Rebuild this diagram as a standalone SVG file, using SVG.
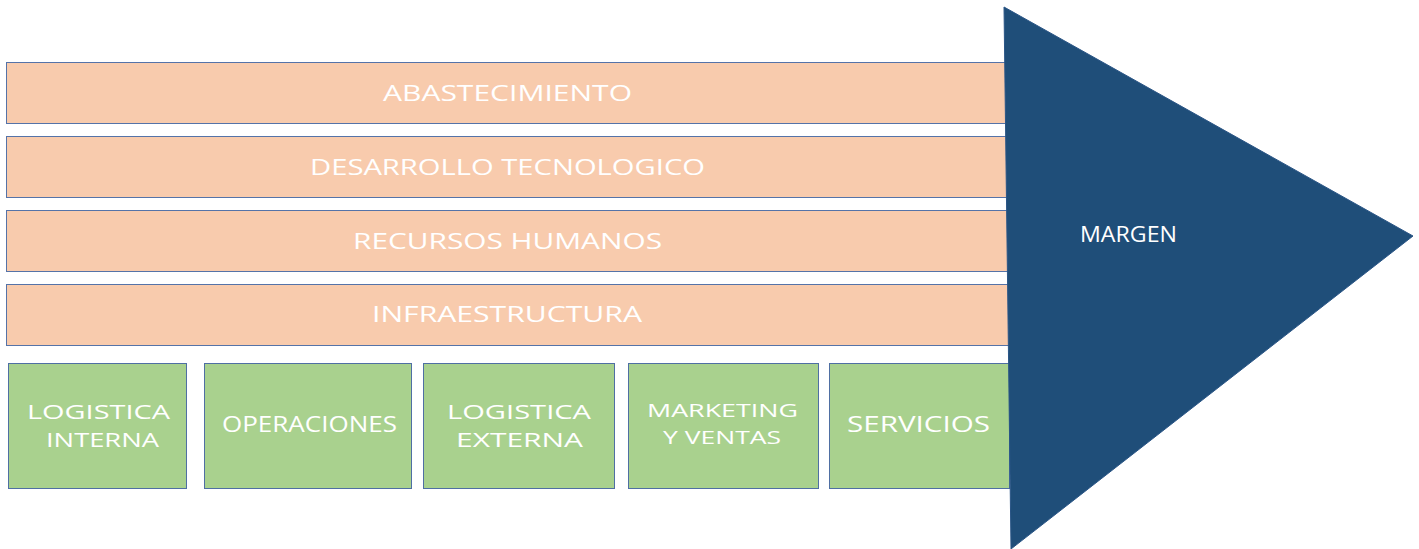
<svg xmlns="http://www.w3.org/2000/svg" width="1419" height="549" viewBox="0 0 1419 549">
<style>
.bar{fill:#F8CBAD;stroke:#5573A8;stroke-width:1}
.act{fill:#A9D18E;stroke:#4F6FA3;stroke-width:1}
.lbl{font-family:"Open Sans","DejaVu Sans",sans-serif;font-size:21px;fill:#FFFFFF;text-anchor:middle}
.two{font-size:20px}
.mk{font-size:19px}
</style>
<rect width="1419" height="549" fill="#FFFFFF"/>
<g id="abastecimiento"><rect class="bar" x="6.5" y="62.5" width="1003" height="61"/><text class="lbl" x="507.5" y="101" textLength="249" lengthAdjust="spacingAndGlyphs">ABASTECIMIENTO</text></g>
<g id="desarrollo"><rect class="bar" x="6.5" y="136.5" width="1003" height="61"/><text class="lbl" x="507.5" y="175" textLength="395" lengthAdjust="spacingAndGlyphs">DESARROLLO TECNOLOGICO</text></g>
<g id="recursos"><rect class="bar" x="6.5" y="210.5" width="1003" height="61"/><text class="lbl" x="507.5" y="249" textLength="309" lengthAdjust="spacingAndGlyphs">RECURSOS HUMANOS</text></g>
<g id="infraestructura"><rect class="bar" x="6.5" y="284.5" width="1003" height="61"/><text class="lbl" x="507" y="322" textLength="270" lengthAdjust="spacingAndGlyphs">INFRAESTRUCTURA</text></g>
<g id="logistica-interna"><rect class="act" x="8.5" y="363.5" width="178" height="125"/><text class="lbl two" x="98.5" y="419" textLength="143" lengthAdjust="spacingAndGlyphs">LOGISTICA</text><text class="lbl two" x="102.5" y="446.5" textLength="113" lengthAdjust="spacingAndGlyphs">INTERNA</text></g>
<g id="operaciones"><rect class="act" x="204.5" y="363.5" width="207" height="125"/><text class="lbl" x="309.5" y="432" textLength="175" lengthAdjust="spacingAndGlyphs">OPERACIONES</text></g>
<g id="logistica-externa"><rect class="act" x="423.5" y="363.5" width="191" height="125"/><text class="lbl two" x="519" y="419" textLength="144" lengthAdjust="spacingAndGlyphs">LOGISTICA</text><text class="lbl two" x="519.5" y="446.5" textLength="127" lengthAdjust="spacingAndGlyphs">EXTERNA</text></g>
<g id="marketing"><rect class="act" x="628.5" y="363.5" width="190" height="125"/><text class="lbl mk" x="722.5" y="417" textLength="151" lengthAdjust="spacingAndGlyphs">MARKETING</text><text class="lbl mk" x="722" y="443.5" textLength="118" lengthAdjust="spacingAndGlyphs">Y VENTAS</text></g>
<g id="servicios"><rect class="act" x="829.5" y="363.5" width="180" height="125"/><text class="lbl" x="918.5" y="432" textLength="143" lengthAdjust="spacingAndGlyphs">SERVICIOS</text></g>
<g id="margen"><polygon points="1004,7 1413,236 1011,549" fill="#1F4E79" stroke="#2A5586" stroke-width="1"/><text class="lbl" x="1128.5" y="242" textLength="97" lengthAdjust="spacingAndGlyphs">MARGEN</text></g>
<g id="connectors"></g>
</svg>
